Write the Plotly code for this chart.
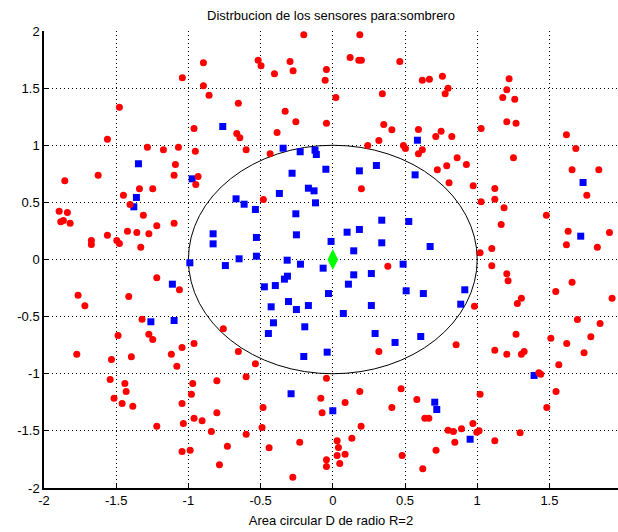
import plotly.graph_objects as go

# Sensor positions inside the circular area D (radius R = 2)
red_x = [
    -0.896, -1.042, -0.896, -0.857, -1.478, -0.961, -1.561, -1.284, -1.173, -1.069, -0.952, -1.090, -1.099, -1.625, -0.933,
    -0.201, 0.187, -0.517, -0.497, -0.296, -0.275, -0.404, -0.044, -0.053, 0.120, 0.180, 0.198, 0.464, -0.654, 0.021,
    0.343, -0.330, -0.256, -0.044, -0.665, -0.644, -0.386, 0.353, 0.409, -0.600, -0.434, 0.242, 0.319, 0.489, 0.503,
    0.620, 0.669, 0.759, 0.798, 0.778, 1.221, 1.205, 1.177, 1.260, 1.205, 1.269, 1.027, 0.593, 0.713, 0.750, 0.824,
    1.618, 1.683, 0.593, 0.620, 0.861, 0.925, 1.251, 0.724, 0.789, 1.657, 1.842,
    -1.856, -0.949, -1.450, -1.339, -1.247, -1.404, -1.895, -1.838, -1.866, -1.884, -1.819, -1.312, -1.219, -1.099,
    -1.422, -1.357, -1.274, -1.561, -1.672, -1.672, -1.496, -1.478, -1.330, -1.219, -1.062, -1.764, -1.413, -1.717,
    -1.321, -0.758,
    -0.481, 0.198, 0.381,
    0.805, 0.972, 1.122, 1.759, 1.027, 1.122, 1.186, 1.479, 1.166, 1.630, 1.916, 1.618, 1.832, 1.101, 1.020, 1.101,
    1.205, 1.214, 1.657, 1.544, 0.981, 1.306, 1.278, 1.934, 1.694, 1.851,
    -1.487, -1.274, -1.247, -1.773, -1.533, -1.395, -1.118, -1.044, -0.961, -1.080, -1.542, -1.440, -1.431, -1.515,
    -1.459, -1.385, -0.970, -0.979, -1.044, -0.803, -0.803, -0.961, -0.905, -1.035, -1.219, -0.841, -1.044, -0.988,
    -0.785,
    -0.654, -0.536, 0.319, -0.600, -0.044, -0.083, 0.085, 0.187, 0.473, -0.483, -0.074, 0.409, -0.490, -0.600, 0.196,
    -0.730, -0.441, -0.229, 0.030, 0.039, 0.132, 0.030, 0.085, 0.048, -0.044, -0.044, 0.480, -0.277,
    0.854, 1.269, 1.122, 1.205, 1.306, 1.325, 1.510, 1.620, 1.787, 1.740, 1.565, 1.427, 1.440, 1.546, 1.482, 1.020,
    0.582, 0.637, 0.665, 0.970, 0.798, 0.835, 0.891, 0.997, 1.013, 0.845, 1.122, 1.297, 0.715, 0.623,
]
red_y = [
    1.722, 1.590, 1.520, 1.438, 1.333, 1.147, 1.053, 0.983, 0.960, 0.983, 0.948, 0.832, 0.738, 0.738, 0.726,
    1.967, 1.967, 1.744, 1.695, 1.733, 1.652, 1.625, 1.663, 1.569, 1.768, 1.744, 1.744, 1.733, 1.368, 1.418,
    1.450, 1.298, 1.205, 1.193, 1.103, 1.065, 1.112, 1.182, 1.135, 0.960, 0.925, 0.998, 1.042, 0.998, 0.972,
    1.569, 1.578, 1.604, 1.499, 1.450, 1.582, 1.485, 1.418, 1.403, 1.205, 1.193, 1.147, 1.138, 1.077, 1.123, 1.077,
    1.091, 0.972, 0.925, 0.960, 0.890, 0.832, 0.890, 0.785, 0.820, 0.785, 0.785,
    0.689, 0.656, 0.563, 0.619, 0.619, 0.481, 0.423, 0.411, 0.341, 0.330, 0.318, 0.388, 0.295, 0.318,
    0.248, 0.236, 0.225, 0.213, 0.166, 0.131, 0.166, 0.140, 0.108, -0.160, -0.265, -0.312, -0.324, -0.405,
    -0.523, -0.607,
    0.525, 0.619, -0.059,
    0.671, 0.645, 0.621, 0.563, 0.505, 0.528, 0.453, 0.388, 0.306, 0.248, 0.236, 0.129, 0.108, 0.096, 0.059, -0.055,
    -0.125, -0.186, -0.199, -0.280, -0.409, -0.339, -0.385, -0.339, -0.525, -0.560,
    -0.665, -0.654, -0.700, -0.829, -0.875, -0.852, -0.829, -0.770, -0.735, -0.934, -1.050, -1.085, -1.155, -1.214,
    -1.260, -1.284, -1.085, -1.179, -1.260, -1.062, -1.342, -1.389, -1.412, -1.435, -1.459, -1.505, -1.681, -1.669,
    -1.797,
    -0.805, -0.913, -0.805, -1.027, -1.039, -1.214, -1.252, -1.155, -1.132, -1.295, -1.342, -1.295, -1.470, -1.529, -1.459,
    -1.634, -1.648, -1.599, -1.587, -1.646, -1.564, -1.716, -1.704, -1.786, -1.753, -1.812, -1.716, -1.905,
    -0.747, -0.654, -0.794, -0.829, -0.829, -0.805, -0.689, -0.735, -0.677, -0.817, -0.922, -0.992, -1.004, -1.155, -1.295, -1.179,
    -1.225, -1.389, -1.389, -1.435, -1.494, -1.505, -1.482, -1.512, -1.499, -1.599, -1.587, -1.517, -1.669, -1.832,
]

blue_x = [
    -0.762, -1.346, -0.974, -0.344, -0.226, -0.123, -0.114, -0.282, -0.048, 0.184, 0.302, 0.586, 0.570,
    -1.360, -1.378, -0.829, -0.829, -0.990, -1.111, -1.260, -1.099,
    -0.670, -0.614, -0.536, -0.370, -0.169, -0.130, -0.120, -0.256, 0.339, 0.526, -0.529, -0.252, 0.099, 0.184,
    -0.012, 0.339, 0.145, -0.649, -0.529, -0.744, -0.316, -0.224, -0.067, 0.487, 0.145, 0.267, -0.314, -0.335,
    -0.398, -0.474, 0.108, -0.030, 0.508, -0.307, -0.427, -0.252, -0.169, 0.267, 0.073, -0.411, -0.194,
    1.733, 1.717, 0.674, 0.627, 0.914, 0.886,
    -0.446, 0.293, 0.431, -0.201, -0.039, -0.289, 0.000,
    0.609, 1.394, 0.706, 0.720, 0.951,
]
blue_y = [
    1.164, 0.838, 0.706, 0.974, 0.943, 0.957, 0.919, 0.755, 0.790, 0.776, 0.823, 1.044, 0.741,
    0.543, 0.461, 0.225, 0.137, -0.029, -0.216, -0.545, -0.534,
    0.531, 0.484, 0.438, 0.578, 0.624, 0.601, 0.496, 0.400, 0.344, 0.333, 0.193, 0.216, 0.239, 0.263,
    0.158, 0.146, 0.076, 0.006, 0.029, -0.053, -0.006, -0.041, -0.076, -0.041, -0.134, -0.123, -0.146, -0.172,
    -0.228, -0.239, -0.216, -0.298, -0.274, -0.368, -0.414, -0.438, -0.403, -0.403, -0.473, -0.554, -0.589,
    0.674, 0.204, 0.114, -0.298, -0.265, -0.391,
    -0.648, -0.648, -0.726, -0.849, -0.811, -1.175, -1.324,
    -0.674, -1.015, -1.249, -1.313, -1.573,
]

center_x = [0.0]
center_y = [0.0]
inner_radius = 1.0

x_ticks = [-2, -1.5, -1, -0.5, 0, 0.5, 1, 1.5]
x_tick_text = ["-2", "-1.5", "-1", "-0.5", "0", "0.5", "1", "1.5"]
y_ticks = [-2, -1.5, -1, -0.5, 0, 0.5, 1, 1.5, 2]
y_tick_text = ["-2", "-1.5", "-1", "-0.5", "0", "0.5", "1", "1.5", "2"]

font_family = "Liberation Sans, Arial, Helvetica, sans-serif"

fig = go.Figure()

fig.add_trace(go.Scatter(
    x=blue_x, y=blue_y, mode="markers",
    marker=dict(symbol="square", size=7, color="#0000ff", line=dict(width=0)),
    showlegend=False,
))
fig.add_trace(go.Scatter(
    x=red_x, y=red_y, mode="markers",
    marker=dict(symbol="circle", size=7, color="#ff0000", line=dict(width=0)),
    showlegend=False,
))
fig.add_trace(go.Scatter(
    x=center_x, y=center_y, mode="markers",
    marker=dict(symbol="diamond-tall", size=15, color="#00ff00", line=dict(width=0)),
    showlegend=False,
))

fig.add_shape(
    type="circle", xref="x", yref="y",
    x0=-inner_radius, y0=-inner_radius, x1=inner_radius, y1=inner_radius,
    line=dict(color="black", width=1), layer="below",
)

axis_common = dict(
    ticks="inside", ticklen=5, tickcolor="black", tickwidth=1,
    showline=True, linecolor="black", linewidth=1.5, mirror=False,
    showgrid=True, gridcolor="#000000", gridwidth=1, griddash="1px,3px",
    zeroline=False, tickfont=dict(family=font_family, size=13, color="black"),
)

fig.update_xaxes(
    range=[-2, 1.975], tickvals=x_ticks, ticktext=x_tick_text,
    title=dict(text="Area circular D de radio R=2", standoff=9,
               font=dict(family=font_family, size=13, color="black")),
    **axis_common,
)
fig.update_yaxes(
    range=[-2, 2], tickvals=y_ticks, ticktext=y_tick_text,
    **axis_common,
)

fig.update_layout(
    width=618, height=532,
    margin=dict(l=44, r=0, t=31, b=44),
    paper_bgcolor="white", plot_bgcolor="white",
    title=dict(text="Distrbucion de los sensores para:sombrero",
               x=0.5, xref="paper", y=1 - 15 / 532, yref="container", yanchor="middle",
               font=dict(family=font_family, size=13, color="black")),
    font=dict(family=font_family, size=13, color="black"),
)

fig.write_html("out.html")
